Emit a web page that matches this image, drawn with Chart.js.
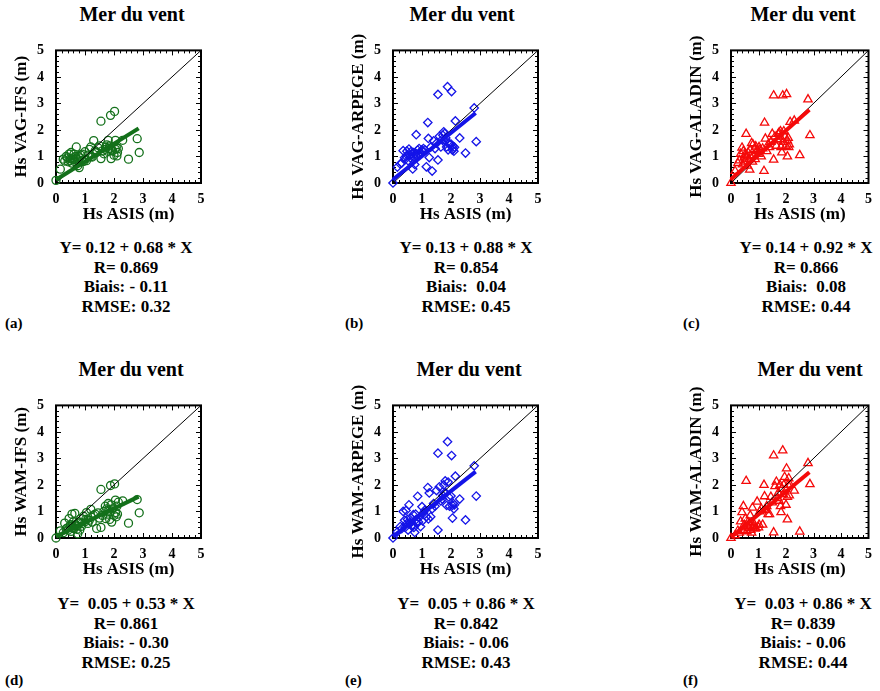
<!DOCTYPE html>
<html>
<head>
<meta charset="utf-8">
<script src="https://cdn.jsdelivr.net/npm/chart.js@4.4.1/dist/chart.umd.min.js"></script>
<style>
    body { margin: 0; background: #fff; font-family: 'Liberation Serif', 'Times New Roman', serif; font-weight: bold; color: #000; }
    #page { position: relative; width: 880px; height: 691px; overflow: hidden; }
    .chart-box { position: absolute; }
    .title { position: absolute; font-size: 20px; transform: translate(-50%, -50%); white-space: nowrap; }
    .stats { position: absolute; font-size: 17px; line-height: 19.5px; text-align: center; white-space: pre; transform: translateX(-50%); }
    .letter { position: absolute; font-size: 15px; line-height: 15px; }
</style>
</head>
<body>
<div id="page"></div>
<script>
// Hs observed by ASIS (shared x for every panel)
const asisHs = [
    0.00, 0.15, 0.25, 0.30, 0.35, 0.40, 0.42, 0.45, 0.48, 0.50,
    0.52, 0.55, 0.58, 0.60, 0.62, 0.65, 0.68, 0.70, 0.72, 0.75,
    0.78, 0.80, 0.82, 0.85, 0.88, 0.90, 0.95, 1.00, 1.02, 1.05,
    1.10, 1.15, 1.20, 1.22, 1.25, 1.30, 1.35, 1.40, 1.45, 1.50,
    1.55, 1.55, 1.60, 1.65, 1.70, 1.72, 1.75, 1.78, 1.80, 1.82,
    1.85, 1.88, 1.90, 1.92, 1.95, 2.00, 2.02, 2.05, 2.05, 2.08,
    2.10, 2.12, 2.15, 2.30, 2.50, 2.80, 2.87
];

const vagIfs = [
    0.10, 0.52, 0.90, 0.83, 1.00, 0.95, 0.80, 1.09, 0.85, 0.92,
    1.15, 0.75, 0.95, 0.88, 1.09, 0.80, 1.00, 1.36, 0.90, 0.65,
    1.00, 0.58, 0.95, 1.05, 0.85, 1.09, 0.81, 1.18, 0.90, 0.84,
    1.05, 1.27, 1.36, 1.00, 0.98, 1.60, 1.21, 1.15, 1.33, 1.40,
    2.33, 0.92, 1.21, 1.10, 1.27, 1.35, 1.44, 1.20, 1.61, 1.30,
    1.40, 2.55, 0.92, 1.25, 1.21, 1.05, 2.70, 1.61, 1.27, 1.35,
    1.02, 1.15, 1.30, 1.61, 0.90, 1.67, 1.15
];

const vagArpege = [
    0.00, 0.60, 0.72, 0.75, 1.22, 0.95, 0.89, 1.00, 1.20, 1.05,
    0.84, 1.28, 1.06, 0.95, 1.18, 1.10, 0.53, 1.15, 1.00, 0.70,
    1.12, 1.82, 1.01, 1.24, 1.10, 1.30, 1.15, 1.25, 1.20, 1.30,
    1.25, 0.61, 2.28, 1.68, 0.96, 1.35, 0.45, 1.59, 1.30, 1.50,
    3.34, 0.87, 1.76, 1.36, 1.65, 1.80, 1.93, 1.87, 1.59, 1.70,
    1.36, 3.63, 1.25, 1.50, 1.45, 1.47, 3.45, 1.24, 1.40, 1.30,
    1.20, 1.35, 2.34, 1.70, 1.13, 2.83, 1.56
];

const vagAladin = [
    0.00, 0.45, 0.75, 0.85, 1.10, 1.33, 0.70, 1.20, 0.95, 1.05,
    0.80, 1.85, 1.00, 0.65, 1.15, 0.90, 0.50, 1.25, 1.00, 1.50,
    0.80, 1.45, 1.05, 1.27, 0.90, 1.38, 1.20, 1.10, 1.35, 1.25,
    1.00, 1.30, 0.45, 2.27, 1.67, 1.20, 1.45, 1.35, 1.55, 1.85,
    3.30, 0.88, 1.75, 1.40, 1.60, 1.85, 1.90, 1.65, 1.95, 1.35,
    1.15, 3.30, 1.55, 1.95, 1.75, 1.40, 3.35, 1.60, 1.00, 1.70,
    1.35, 1.45, 2.30, 2.35, 1.05, 3.15, 1.80
];

const wamIfs = [
    0.00, 0.27, 0.20, 0.56, 0.35, 0.38, 0.30, 0.73, 0.45, 0.50,
    0.25, 0.90, 0.40, 0.61, 0.35, 0.93, 0.50, 0.45, 0.33, 0.16,
    0.60, 0.56, 0.30, 0.73, 0.44, 0.55, 0.82, 0.61, 0.70, 0.96,
    0.55, 0.67, 1.08, 0.79, 0.60, 0.85, 0.90, 0.36, 0.95, 0.75,
    1.83, 0.40, 0.85, 1.00, 1.20, 0.73, 1.10, 0.90, 1.30, 1.05,
    0.70, 1.98, 1.25, 0.60, 1.10, 0.85, 2.04, 1.43, 0.96, 0.80,
    1.20, 0.90, 1.35, 1.40, 0.56, 1.45, 0.95
];

const wamArpege = [
    0.00, 0.23, 0.43, 0.35, 1.00, 0.67, 0.40, 1.04, 0.55, 0.70,
    0.30, 1.25, 0.60, 0.56, 0.75, 0.45, 0.50, 0.88, 0.40, 0.21,
    0.90, 0.70, 0.55, 1.57, 0.60, 0.77, 0.43, 1.18, 0.65, 0.95,
    1.05, 0.80, 1.90, 0.72, 1.70, 0.80, 1.10, 1.30, 1.20, 1.79,
    3.20, 0.30, 1.93, 1.40, 1.47, 1.60, 2.00, 1.70, 2.15, 1.70,
    1.23, 3.63, 2.11, 1.55, 1.20, 1.58, 3.11, 1.23, 0.75, 1.30,
    1.10, 1.25, 2.33, 1.47, 0.68, 2.72, 1.58
];

const wamAladin = [
    0.00, 0.10, 0.27, 0.20, 0.62, 0.97, 0.30, 1.20, 0.50, 0.40,
    0.73, 2.15, 0.25, 0.44, 0.60, 0.38, 0.55, 0.85, 0.30, 0.20,
    1.14, 0.38, 0.45, 0.50, 0.35, 0.38, 1.37, 0.40, 0.50, 1.00,
    1.10, 0.50, 2.00, 1.57, 1.05, 1.20, 0.90, 0.90, 1.55, 1.34,
    3.11, 0.21, 1.95, 2.12, 1.50, 1.70, 1.40, 2.00, 1.20, 0.97,
    1.85, 3.30, 1.65, 2.00, 2.30, 1.25, 2.62, 1.55, 0.70, 2.00,
    2.25, 1.60, 2.00, 1.78, 0.24, 2.82, 2.03
];

const axisTicks = [0, 1, 2, 3, 4, 5];
const fitEnd = 2.85;

// regression stats as printed under each panel
const intercepts = [0.12, 0.13, 0.14, 0.05, 0.05, 0.03];
const slopes = [0.68, 0.88, 0.92, 0.53, 0.86, 0.86];
const rValues = ['0.869', '0.854', '0.866', '0.861', '0.842', '0.839'];
const biasValues = ['- 0.11', ' 0.04', ' 0.08', '- 0.30', '- 0.06', '- 0.06'];
const rmseValues = ['0.32', '0.45', '0.44', '0.25', '0.43', '0.44'];
const fitLabels = ['Y= 0.12 + 0.68 * X', 'Y= 0.13 + 0.88 * X', 'Y= 0.14 + 0.92 * X',
    'Y=  0.05 + 0.53 * X', 'Y=  0.05 + 0.86 * X', 'Y=  0.03 + 0.86 * X'];
const yLabels = ['Hs VAG-IFS (m)', 'Hs VAG-ARPEGE (m)', 'Hs VAG-ALADIN (m)',
    'Hs WAM-IFS (m)', 'Hs WAM-ARPEGE (m)', 'Hs WAM-ALADIN (m)'];
const panelLetters = ['(a)', '(b)', '(c)', '(d)', '(e)', '(f)'];
const panelTitle = 'Mer du vent';

const SERIF = "'Liberation Serif', 'Times New Roman', serif";
const GREEN = '#13701a';
const BLUE = '#1414e8';
const RED = '#f50a0a';

const panels = [
    { y: vagIfs, color: GREEN, style: 'circle', radius: 4, left: 0, top: 30, width: 215, titleX: 132, titleY: 14, statsX: 126, statsY: 238, letterX: 5, letterY: 316 },
    { y: vagArpege, color: BLUE, style: 'rectRot', radius: 4.2, left: 337, top: 30, width: 216, titleX: 462, titleY: 14, statsX: 466, statsY: 238, letterX: 345, letterY: 316 },
    { y: vagAladin, color: RED, style: 'triangle', radius: 4.8, left: 675, top: 30, width: 205, titleX: 803, titleY: 14, statsX: 806, statsY: 238, letterX: 683, letterY: 316 },
    { y: wamIfs, color: GREEN, style: 'circle', radius: 4, left: 0, top: 385, width: 215, titleX: 131, titleY: 369, statsX: 126, statsY: 594, letterX: 5, letterY: 673 },
    { y: wamArpege, color: BLUE, style: 'rectRot', radius: 4.2, left: 337, top: 385, width: 216, titleX: 469, titleY: 369, statsX: 466, statsY: 594, letterX: 345, letterY: 673 },
    { y: wamAladin, color: RED, style: 'triangle', radius: 4.8, left: 675, top: 385, width: 205, titleX: 810, titleY: 369, statsX: 803, statsY: 594, letterX: 683, letterY: 673 }
];

// box frame + inward ticks on the four sides
const frameTicks = {
    id: 'frameTicks',
    beforeDatasetsDraw(chart) {
        const { ctx, chartArea: a, scales: { x, y } } = chart;
        ctx.save();
        ctx.strokeStyle = '#000';
        ctx.lineWidth = 1;
        for (let i = 1; i < 25; i++) {
            const v = i / 5;
            const len = i % 5 === 0 ? 5 : 3;
            const px = Math.round(x.getPixelForValue(v)) + 0.5;
            const py = Math.round(y.getPixelForValue(v)) + 0.5;
            ctx.beginPath();
            ctx.moveTo(px, a.bottom); ctx.lineTo(px, a.bottom - len);
            ctx.moveTo(px, a.top); ctx.lineTo(px, a.top + len);
            ctx.moveTo(a.left, py); ctx.lineTo(a.left + len, py);
            ctx.moveTo(a.right, py); ctx.lineTo(a.right - len, py);
            ctx.stroke();
        }
        ctx.lineWidth = 2;
        ctx.strokeRect(a.left, a.top, a.right - a.left, a.bottom - a.top);
        ctx.restore();
    }
};

function addText(cls, text, left, top) {
    const el = document.createElement('div');
    el.className = cls;
    el.textContent = text;
    el.style.left = left + 'px';
    el.style.top = top + 'px';
    document.getElementById('page').appendChild(el);
}

function buildPanel(p, i) {
    const box = document.createElement('div');
    box.className = 'chart-box';
    box.style.left = p.left + 'px';
    box.style.top = p.top + 'px';
    const canvas = document.createElement('canvas');
    canvas.width = p.width;
    canvas.height = 200;
    box.appendChild(canvas);
    document.getElementById('page').appendChild(box);

    addText('title', panelTitle, p.titleX, p.titleY);
    addText('stats', [fitLabels[i], 'R= ' + rValues[i], 'Biais: ' + biasValues[i], 'RMSE: ' + rmseValues[i]].join('\n'), p.statsX, p.statsY);
    addText('letter', panelLetters[i], p.letterX, p.letterY);

    const points = asisHs.map((x, k) => ({ x, y: p.y[k] }));
    const fitLine = [
        { x: 0, y: intercepts[i] },
        { x: fitEnd, y: intercepts[i] + slopes[i] * fitEnd }
    ];
    const tickFont = { family: SERIF, size: 14, weight: 'bold' };
    const titleFont = { family: SERIF, size: 17, weight: 'bold' };

    new Chart(canvas.getContext('2d'), {
        type: 'scatter',
        data: {
            datasets: [
                {
                    type: 'line',
                    data: fitLine,
                    borderColor: p.color,
                    borderWidth: 4,
                    pointRadius: 0,
                    clip: false
                },
                {
                    type: 'line',
                    data: [{ x: 0, y: 0 }, { x: 5, y: 5 }],
                    borderColor: '#000',
                    borderWidth: 1,
                    pointRadius: 0
                },
                {
                    data: points,
                    pointStyle: p.style,
                    pointRadius: p.radius,
                    borderColor: p.color,
                    backgroundColor: 'rgba(0,0,0,0)',
                    borderWidth: 1.3,
                    clip: false
                }
            ]
        },
        options: {
            responsive: false,
            animation: false,
            events: [],
            layout: { padding: { left: 11, top: 9, right: p.width - 56 - 145, bottom: 0 } },
            plugins: { legend: { display: false }, tooltip: { enabled: false } },
            scales: {
                x: {
                    type: 'linear',
                    min: 0,
                    max: 5,
                    afterBuildTicks: (scale) => { scale.ticks = axisTicks.map((v) => ({ value: v })); },
                    afterFit: (scale) => { scale.height = 47; },
                    grid: { display: false, drawTicks: false },
                    border: { display: false },
                    ticks: { color: '#000', padding: 8, maxRotation: 0, autoSkip: false, font: tickFont },
                    title: { display: true, text: 'Hs ASIS (m)', color: '#000', font: titleFont, padding: { top: 0, bottom: 5 } }
                },
                y: {
                    type: 'linear',
                    min: 0,
                    max: 5,
                    afterBuildTicks: (scale) => { scale.ticks = axisTicks.map((v) => ({ value: v })); },
                    afterFit: (scale) => { scale.width = 45; },
                    grid: { display: false, drawTicks: false },
                    border: { display: false },
                    ticks: { color: '#000', padding: 12, autoSkip: false, font: tickFont },
                    title: { display: true, text: yLabels[i], color: '#000', font: titleFont, padding: { top: 0, bottom: 0 } }
                }
            }
        },
        plugins: [frameTicks]
    });
}

document.addEventListener('DOMContentLoaded', () => {
    panels.forEach(buildPanel);
});
</script>
</body>
</html>
